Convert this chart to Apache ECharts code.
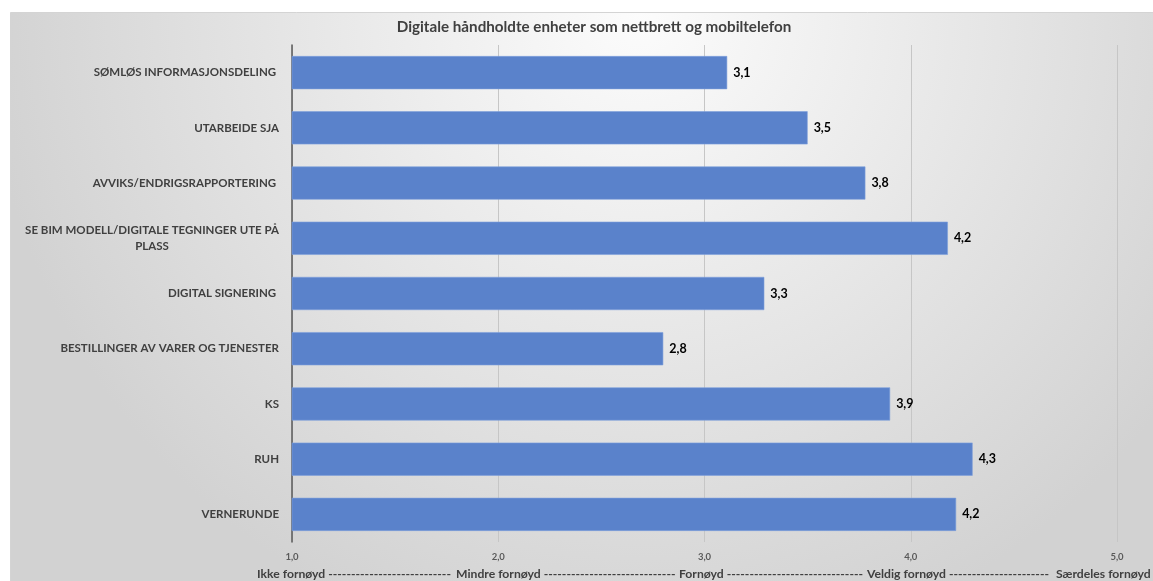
<!DOCTYPE html>
<html>
<head>
<meta charset="utf-8">
<script src="https://cdn.jsdelivr.net/npm/echarts@6/dist/echarts.min.js"></script>
<style>
html,body{margin:0;padding:0;background:#fff;}
#c{width:1153px;height:581px;}
</style>
</head>
<body>
<div id="c"></div>
<script>
const titleText = 'Digitale håndholdte enheter som nettbrett og mobiltelefon';
const categories = [
  'SØMLØS INFORMASJONSDELING ',
  'UTARBEIDE SJA',
  'AVVIKS/ENDRIGSRAPPORTERING ',
  'SE BIM MODELL/DIGITALE TEGNINGER UTE PÅ\nPLASS',
  'DIGITAL SIGNERING ',
  'BESTILLINGER AV VARER OG TJENESTER',
  'KS',
  'RUH',
  'VERNERUNDE'
];
const values = [3.11, 3.5, 3.78, 4.18, 3.29, 2.8, 3.9, 4.3, 4.22];
const scaleWords = ['Ikke fornøyd', 'Mindre fornøyd', 'Fornøyd', 'Veldig fornøyd', 'Særdeles fornøyd'];

// layout (pixel x of each scale word in the bottom caption)
const scaleWordX = [257, 456, 679, 867, 1056];

const fmt = v => v.toFixed(1).replace('.', ',');
const FONT = 'Lato';
const capFont = 'bold 12.2px ' + FONT;

const ctx = document.createElement('canvas').getContext('2d');
ctx.font = capFont;
const dashW = ctx.measureText('-').width;
const spaceW = ctx.measureText(' ').width;

const captionGraphics = [];
scaleWords.forEach((w, i) => {
  captionGraphics.push({
    type: 'text', x: scaleWordX[i], y: 574, silent: true,
    style: {text: w, font: capFont, fill: '#404040', verticalAlign: 'middle', align: 'left'}
  });
  if (i < scaleWords.length - 1) {
    const start = scaleWordX[i] + ctx.measureText(w).width + spaceW;
    const end = scaleWordX[i + 1] - spaceW;
    const n = Math.max(1, Math.floor((end - start) / dashW));
    captionGraphics.push({
      type: 'text', x: start, y: 574, silent: true,
      style: {text: '-'.repeat(n), font: capFont, fill: '#404040', verticalAlign: 'middle', align: 'left'}
    });
  }
});

const chart = echarts.init(document.getElementById('c'), null, {renderer: 'canvas'});
chart.setOption({
  animation: false,
  graphic: [{
    type: 'rect', left: 10, top: 12, z: -10, silent: true,
    shape: {width: 1143, height: 569},
    style: {
      fill: {type: 'radial', x: 0.55, y: 0.0, r: 1.15,
        colorStops: [{offset: 0, color: '#fcfcfc'}, {offset: 1, color: '#d2d2d2'}]},
      stroke: '#d4d4d4', lineWidth: 1
    }
  }].concat(captionGraphics),
  title: [{
    text: titleText, left: 589, textAlign: 'center', top: 15,
    textStyle: {fontFamily: FONT, fontSize: 15.2, fontWeight: 'bold', color: '#404040'}
  }],
  grid: {left: 292, right: 36, top: 45, bottom: 39, containLabel: false},
  xAxis: {
    type: 'value', min: 1, max: 5, interval: 1,
    axisLine: {show: false},
    axisTick: {show: false},
    splitLine: {show: true, lineStyle: {color: '#c6c6c6', width: 1}},
    axisLabel: {
      formatter: v => fmt(v), margin: 10,
      fontFamily: FONT, fontSize: 9.5, fontWeight: 'bold', color: '#595959'
    }
  },
  yAxis: {
    type: 'category', data: categories, inverse: true,
    axisLine: {show: true, lineStyle: {color: '#595959', width: 1.5}},
    axisTick: {show: false},
    axisLabel: {
      margin: 13, fontFamily: FONT, fontSize: 11.5, fontWeight: 'bold', color: '#404040',
      formatter: v => '{c|' + v + '}',
      rich: {c: {align: 'center', fontFamily: FONT, fontSize: 11.5, fontWeight: 'bold', color: '#404040', lineHeight: 16}}
    }
  },
  series: [{
    type: 'bar', data: values, barCategoryGap: '40%',
    itemStyle: {color: '#5a82cb', borderColor: '#7d9fdc', borderWidth: 0.6},
    label: {
      show: true, position: 'right', distance: 6,
      formatter: p => fmt(p.value),
      fontFamily: FONT, fontSize: 12.5, fontWeight: 'bold', color: '#000'
    }
  }]
});
</script>
</body>
</html>
